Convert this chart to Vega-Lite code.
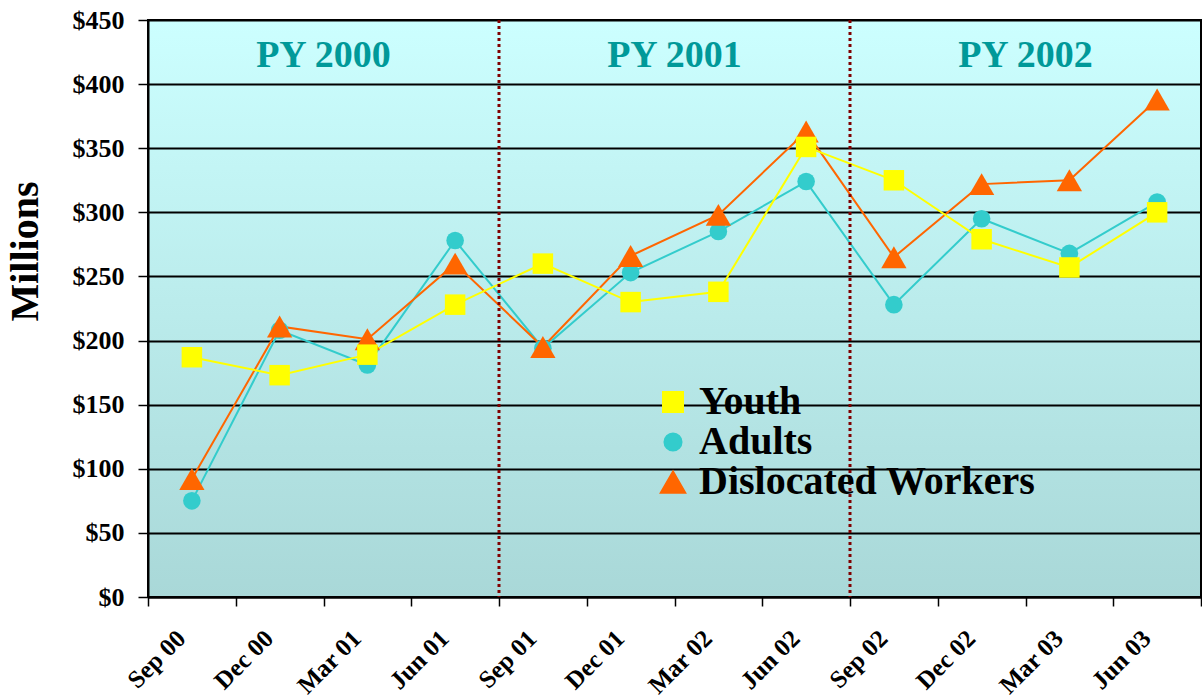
{
  "$schema": "https://vega.github.io/schema/vega-lite/v6.json",
  "width": 1053,
  "height": 577,
  "autosize": {"type": "none"},
  "padding": {"left": 148, "top": 20, "right": 1, "bottom": 100},
  "background": "white",
  "view": {
    "fill": {"gradient": "linear", "x1": 0, "y1": 0, "x2": 0, "y2": 1,
      "stops": [{"offset": 0, "color": "#CCFFFF"}, {"offset": 1, "color": "#A9D8D8"}]},
    "stroke": "black",
    "strokeWidth": 2
  },
  "config": {"font": "Liberation Serif"},
  "datasets": {
    "series": [
      {"month": "Sep 00", "series": "Adults", "value": 75},
      {"month": "Dec 00", "series": "Adults", "value": 208},
      {"month": "Mar 01", "series": "Adults", "value": 181},
      {"month": "Jun 01", "series": "Adults", "value": 278},
      {"month": "Sep 01", "series": "Adults", "value": 194},
      {"month": "Dec 01", "series": "Adults", "value": 253},
      {"month": "Mar 02", "series": "Adults", "value": 285},
      {"month": "Jun 02", "series": "Adults", "value": 324},
      {"month": "Sep 02", "series": "Adults", "value": 228},
      {"month": "Dec 02", "series": "Adults", "value": 295},
      {"month": "Mar 03", "series": "Adults", "value": 268},
      {"month": "Jun 03", "series": "Adults", "value": 308},
      {"month": "Sep 00", "series": "Dislocated Workers", "value": 92},
      {"month": "Dec 00", "series": "Dislocated Workers", "value": 211},
      {"month": "Mar 01", "series": "Dislocated Workers", "value": 201},
      {"month": "Jun 01", "series": "Dislocated Workers", "value": 260},
      {"month": "Sep 01", "series": "Dislocated Workers", "value": 195},
      {"month": "Dec 01", "series": "Dislocated Workers", "value": 266},
      {"month": "Mar 02", "series": "Dislocated Workers", "value": 298},
      {"month": "Jun 02", "series": "Dislocated Workers", "value": 363},
      {"month": "Sep 02", "series": "Dislocated Workers", "value": 265},
      {"month": "Dec 02", "series": "Dislocated Workers", "value": 322},
      {"month": "Mar 03", "series": "Dislocated Workers", "value": 325},
      {"month": "Jun 03", "series": "Dislocated Workers", "value": 388},
      {"month": "Sep 00", "series": "Youth", "value": 187},
      {"month": "Dec 00", "series": "Youth", "value": 173},
      {"month": "Mar 01", "series": "Youth", "value": 189},
      {"month": "Jun 01", "series": "Youth", "value": 228},
      {"month": "Sep 01", "series": "Youth", "value": 260},
      {"month": "Dec 01", "series": "Youth", "value": 230},
      {"month": "Mar 02", "series": "Youth", "value": 238},
      {"month": "Jun 02", "series": "Youth", "value": 351},
      {"month": "Sep 02", "series": "Youth", "value": 325},
      {"month": "Dec 02", "series": "Youth", "value": 279},
      {"month": "Mar 03", "series": "Youth", "value": 257},
      {"month": "Jun 03", "series": "Youth", "value": 300}
    ],
    "dividers": [{"b": 4}, {"b": 8}],
    "periods": [
      {"b": 2, "label": "PY 2000"},
      {"b": 6, "label": "PY 2001"},
      {"b": 10, "label": "PY 2002"}
    ]
  },
  "layer": [
    {
      "data": {"name": "series"},
      "encoding": {
        "x": {
          "field": "month", "type": "ordinal",
          "sort": ["Sep 00", "Dec 00", "Mar 01", "Jun 01", "Sep 01", "Dec 01", "Mar 02", "Jun 02", "Sep 02", "Dec 02", "Mar 03", "Jun 03"],
          "scale": {"type": "point", "padding": 0.5},
          "axis": {
            "title": null, "ticks": false, "grid": false,
            "domain": true, "domainColor": "black", "domainWidth": 2,
            "labelAngle": -45, "labelAlign": "right", "labelBaseline": "middle",
            "labelFont": "Liberation Serif", "labelFontWeight": "bold", "labelFontSize": 25,
            "labelColor": "black", "labelPadding": 37, "labelOffset": -11
          }
        },
        "y": {
          "field": "value", "type": "quantitative",
          "scale": {"domain": [0, 450], "nice": false},
          "axis": {
            "values": [0, 50, 100, 150, 200, 250, 300, 350, 400, 450],
            "format": "$.0f",
            "grid": true, "gridColor": "black", "gridWidth": 2, "gridOpacity": 1,
            "domain": true, "domainColor": "black", "domainWidth": 2,
            "tickSize": 10, "tickColor": "black", "tickWidth": 1.5,
            "labelFont": "Liberation Serif", "labelFontWeight": "bold", "labelFontSize": 26,
            "labelColor": "black", "labelPadding": 14,
            "title": "Millions", "titleFont": "Liberation Serif", "titleFontWeight": "bold",
            "titleFontSize": 40, "titleColor": "black", "titleAngle": -90,
            "titleX": -123, "titleY": 231, "titleAlign": "center", "titleBaseline": "middle"
          }
        }
      },
      "layer": [
        {
          "mark": {"type": "line", "strokeWidth": 2},
          "encoding": {
            "color": {
              "field": "series", "type": "nominal",
              "scale": {"domain": ["Youth", "Adults", "Dislocated Workers"], "range": ["#FFFF00", "#33CCCC", "#FF6600"]}
            }
          }
        },
        {
          "mark": {"type": "point", "filled": true, "opacity": 1},
          "encoding": {
            "color": {
              "field": "series", "type": "nominal",
              "scale": {"domain": ["Youth", "Adults", "Dislocated Workers"], "range": ["#FFFF00", "#33CCCC", "#FF6600"]},
              "legend": {
                "title": null, "orient": "none", "legendX": 505, "legendY": 362,
                "labelFont": "Liberation Serif", "labelFontWeight": "bold", "labelFontSize": 40,
                "labelColor": "black", "labelOffset": 6, "rowPadding": 0, "labelLimit": 600
              }
            },
            "shape": {
              "field": "series", "type": "nominal",
              "scale": {"domain": ["Youth", "Adults", "Dislocated Workers"], "range": ["square", "circle", "triangle-up"]}
            },
            "size": {
              "field": "series", "type": "nominal",
              "scale": {"type": "ordinal", "domain": ["Youth", "Adults", "Dislocated Workers"], "range": [420, 310, 640]}
            }
          }
        }
      ]
    },
    {
      "encoding": {
        "x": {
          "field": "b", "type": "quantitative",
          "scale": {"domain": [0, 12], "nice": false, "zero": false},
          "axis": {
            "orient": "bottom", "values": [0, 1, 2, 3, 4, 5, 6, 7, 8, 9, 10, 11, 12],
            "labels": false, "ticks": true, "tickSize": 9, "tickColor": "black", "tickWidth": 1.5,
            "domain": false, "grid": false, "title": null
          }
        }
      },
      "layer": [
        {
          "data": {"name": "dividers"},
          "mark": {"type": "rule", "color": "#800000", "strokeWidth": 3, "strokeDash": [3, 3]}
        },
        {
          "data": {"name": "periods"},
          "mark": {"type": "text", "font": "Liberation Serif", "fontWeight": "bold", "fontSize": 38, "color": "#009999", "baseline": "middle", "align": "center"},
          "encoding": {
            "y": {"datum": 422, "type": "quantitative"},
            "text": {"field": "label"}
          }
        }
      ]
    }
  ],
  "resolve": {"scale": {"x": "independent"}}
}
